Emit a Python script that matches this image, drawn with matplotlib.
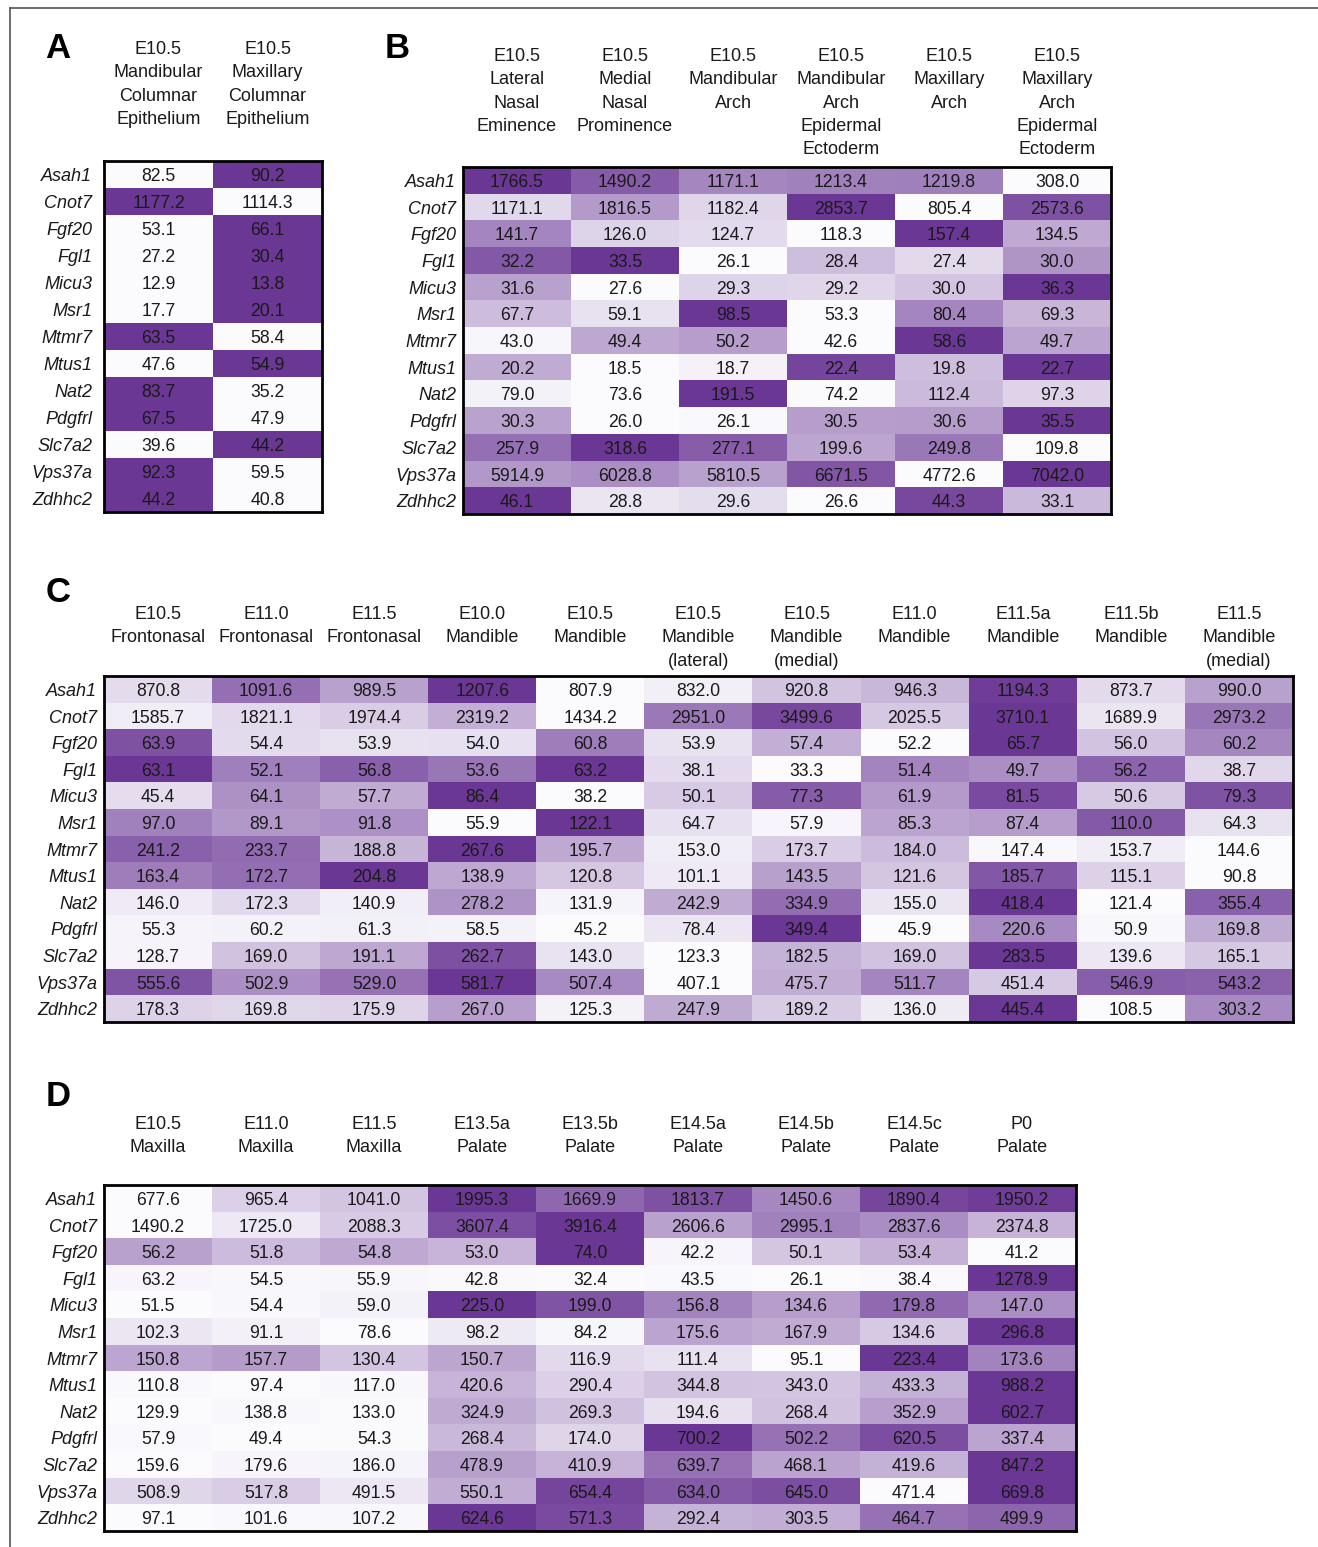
import numpy as np
import matplotlib
matplotlib.use("Agg")
import matplotlib.pyplot as plt
from matplotlib.colors import LinearSegmentedColormap
from matplotlib.transforms import blended_transform_factory, offset_copy
from matplotlib.lines import Line2D

plt.rcParams['font.family'] = ['Liberation Sans', 'DejaVu Sans']

genes = ['Asah1', 'Cnot7', 'Fgf20', 'Fgl1', 'Micu3', 'Msr1', 'Mtmr7',
         'Mtus1', 'Nat2', 'Pdgfrl', 'Slc7a2', 'Vps37a', 'Zdhhc2']

a_cols = ['E10.5\nMandibular\nColumnar\nEpithelium',
          'E10.5\nMaxillary\nColumnar\nEpithelium']
a_vals = [[82.5, 90.2], [1177.2, 1114.3], [53.1, 66.1], [27.2, 30.4],
          [12.9, 13.8], [17.7, 20.1], [63.5, 58.4], [47.6, 54.9],
          [83.7, 35.2], [67.5, 47.9], [39.6, 44.2], [92.3, 59.5],
          [44.2, 40.8]]

b_cols = ['E10.5\nLateral\nNasal\nEminence', 'E10.5\nMedial\nNasal\nProminence',
          'E10.5\nMandibular\nArch', 'E10.5\nMandibular\nArch\nEpidermal\nEctoderm',
          'E10.5\nMaxillary\nArch', 'E10.5\nMaxillary\nArch\nEpidermal\nEctoderm']
b_vals = [[1766.5, 1490.2, 1171.1, 1213.4, 1219.8, 308.0],
          [1171.1, 1816.5, 1182.4, 2853.7, 805.4, 2573.6],
          [141.7, 126.0, 124.7, 118.3, 157.4, 134.5],
          [32.2, 33.5, 26.1, 28.4, 27.4, 30.0],
          [31.6, 27.6, 29.3, 29.2, 30.0, 36.3],
          [67.7, 59.1, 98.5, 53.3, 80.4, 69.3],
          [43.0, 49.4, 50.2, 42.6, 58.6, 49.7],
          [20.2, 18.5, 18.7, 22.4, 19.8, 22.7],
          [79.0, 73.6, 191.5, 74.2, 112.4, 97.3],
          [30.3, 26.0, 26.1, 30.5, 30.6, 35.5],
          [257.9, 318.6, 277.1, 199.6, 249.8, 109.8],
          [5914.9, 6028.8, 5810.5, 6671.5, 4772.6, 7042.0],
          [46.1, 28.8, 29.6, 26.6, 44.3, 33.1]]

c_cols = ['E10.5\nFrontonasal', 'E11.0\nFrontonasal', 'E11.5\nFrontonasal',
          'E10.0\nMandible', 'E10.5\nMandible', 'E10.5\nMandible\n(lateral)',
          'E10.5\nMandible\n(medial)', 'E11.0\nMandible', 'E11.5a\nMandible',
          'E11.5b\nMandible', 'E11.5\nMandible\n(medial)']
c_vals = [[870.8, 1091.6, 989.5, 1207.6, 807.9, 832.0, 920.8, 946.3, 1194.3, 873.7, 990.0],
          [1585.7, 1821.1, 1974.4, 2319.2, 1434.2, 2951.0, 3499.6, 2025.5, 3710.1, 1689.9, 2973.2],
          [63.9, 54.4, 53.9, 54.0, 60.8, 53.9, 57.4, 52.2, 65.7, 56.0, 60.2],
          [63.1, 52.1, 56.8, 53.6, 63.2, 38.1, 33.3, 51.4, 49.7, 56.2, 38.7],
          [45.4, 64.1, 57.7, 86.4, 38.2, 50.1, 77.3, 61.9, 81.5, 50.6, 79.3],
          [97.0, 89.1, 91.8, 55.9, 122.1, 64.7, 57.9, 85.3, 87.4, 110.0, 64.3],
          [241.2, 233.7, 188.8, 267.6, 195.7, 153.0, 173.7, 184.0, 147.4, 153.7, 144.6],
          [163.4, 172.7, 204.8, 138.9, 120.8, 101.1, 143.5, 121.6, 185.7, 115.1, 90.8],
          [146.0, 172.3, 140.9, 278.2, 131.9, 242.9, 334.9, 155.0, 418.4, 121.4, 355.4],
          [55.3, 60.2, 61.3, 58.5, 45.2, 78.4, 349.4, 45.9, 220.6, 50.9, 169.8],
          [128.7, 169.0, 191.1, 262.7, 143.0, 123.3, 182.5, 169.0, 283.5, 139.6, 165.1],
          [555.6, 502.9, 529.0, 581.7, 507.4, 407.1, 475.7, 511.7, 451.4, 546.9, 543.2],
          [178.3, 169.8, 175.9, 267.0, 125.3, 247.9, 189.2, 136.0, 445.4, 108.5, 303.2]]

d_cols = ['E10.5\nMaxilla', 'E11.0\nMaxilla', 'E11.5\nMaxilla', 'E13.5a\nPalate',
          'E13.5b\nPalate', 'E14.5a\nPalate', 'E14.5b\nPalate', 'E14.5c\nPalate',
          'P0\nPalate']
d_vals = [[677.6, 965.4, 1041.0, 1995.3, 1669.9, 1813.7, 1450.6, 1890.4, 1950.2],
          [1490.2, 1725.0, 2088.3, 3607.4, 3916.4, 2606.6, 2995.1, 2837.6, 2374.8],
          [56.2, 51.8, 54.8, 53.0, 74.0, 42.2, 50.1, 53.4, 41.2],
          [63.2, 54.5, 55.9, 42.8, 32.4, 43.5, 26.1, 38.4, 1278.9],
          [51.5, 54.4, 59.0, 225.0, 199.0, 156.8, 134.6, 179.8, 147.0],
          [102.3, 91.1, 78.6, 98.2, 84.2, 175.6, 167.9, 134.6, 296.8],
          [150.8, 157.7, 130.4, 150.7, 116.9, 111.4, 95.1, 223.4, 173.6],
          [110.8, 97.4, 117.0, 420.6, 290.4, 344.8, 343.0, 433.3, 988.2],
          [129.9, 138.8, 133.0, 324.9, 269.3, 194.6, 268.4, 352.9, 602.7],
          [57.9, 49.4, 54.3, 268.4, 174.0, 700.2, 502.2, 620.5, 337.4],
          [159.6, 179.6, 186.0, 478.9, 410.9, 639.7, 468.1, 419.6, 847.2],
          [508.9, 517.8, 491.5, 550.1, 654.4, 634.0, 645.0, 471.4, 669.8],
          [97.1, 101.6, 107.2, 624.6, 571.3, 292.4, 303.5, 464.7, 499.9]]

W, H = 1318, 1547
cmap = LinearSegmentedColormap.from_list('wp', ['#fbfbfe', '#6b3795'])
FS = 12.7
TXT = '#1a1a1a'


def heat_panel(fig, box, vals, cols, head_y, letter, letter_xy, pad):
    x0, y0, x1, y1 = box
    ax = fig.add_axes([x0 / W, 1 - y1 / H, (x1 - x0) / W, (y1 - y0) / H])
    v = np.array(vals)
    lo = v.min(axis=1, keepdims=True)
    hi = v.max(axis=1, keepdims=True)
    ax.imshow((v - lo) / (hi - lo), cmap=cmap, vmin=0, vmax=1,
              aspect='auto', interpolation='nearest')
    # numbers sit a touch below the geometric centre in the original
    down = offset_copy(ax.transData, fig=fig, y=-1.5, units='points')
    for i in range(v.shape[0]):
        for j in range(v.shape[1]):
            ax.text(j, i, f'{v[i, j]:.1f}', ha='center', va='center',
                    fontsize=FS, color=TXT, transform=down)
    ax.set_xticks([])
    ax.set_yticks([])
    lab = offset_copy(ax.transData, fig=fig, x=-pad, y=-1.5, units='points')
    for i, g in enumerate(genes):
        ax.text(-0.5, i, g, ha='right', va='center', fontsize=13,
                style='italic', color=TXT, transform=lab)
    for s in ax.spines.values():
        s.set_linewidth(2)
        s.set_color('black')
    tr = blended_transform_factory(ax.transData, fig.transFigure)
    for j, c in enumerate(cols):
        for k, line in enumerate(c.split('\n')):
            ax.text(j, 1 - (head_y + 1.5 + 23.3 * k) / H, line, transform=tr,
                    ha='center', va='center', fontsize=13, color=TXT)
    fig.text(letter_xy[0] / W, 1 - letter_xy[1] / H, letter, fontsize=25,
             fontweight='bold', ha='center', va='center')
    return ax


fig = plt.figure(figsize=(W / 100, H / 100), dpi=100)

heat_panel(fig, (104, 161, 322, 512), a_vals, a_cols, 48, 'A', (58, 48), 8.5)
heat_panel(fig, (463, 167, 1111, 514), b_vals, b_cols, 55, 'B', (397, 48), 5)
heat_panel(fig, (104, 676, 1293, 1022), c_vals, c_cols, 613, 'C', (58, 592), 5)
heat_panel(fig, (104, 1185, 1076, 1531), d_vals, d_cols, 1123, 'D', (58, 1097), 5)

# outer frame (only top and left edges are visible in the crop)
fig.add_artist(Line2D([10 / W, 1], [1 - 8 / H, 1 - 8 / H], color='#555555',
                      lw=1.2, transform=fig.transFigure))
fig.add_artist(Line2D([10 / W, 10 / W], [1 - 8 / H, 0], color='#555555',
                      lw=1.2, transform=fig.transFigure))

fig.savefig('out.png', dpi=100)
